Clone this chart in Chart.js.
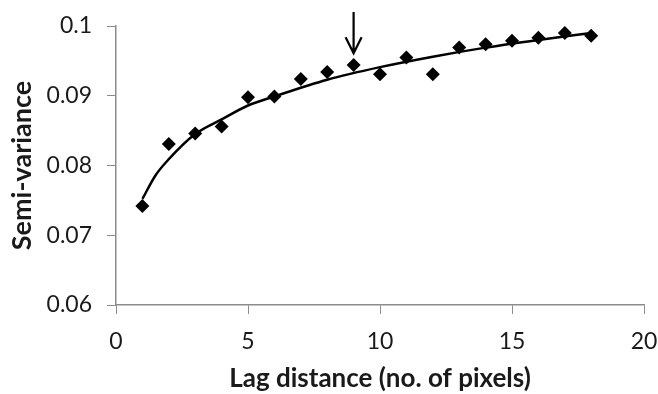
<!DOCTYPE html>
<html lang="en">
<head>
  <meta charset="UTF-8">
  <title>Semi-variance vs lag distance</title>
  <script src="https://cdn.jsdelivr.net/npm/chart.js"></script>
  <style>
    body {
      margin: 0;
      background: #fff;
    }
    #chart {
      display: block;
    }
  </style>
</head>
<body>
  <canvas id="chart" width="658" height="394"></canvas>

  <script>
    // Observed semi-variance per lag
    const lags = [1, 2, 3, 4, 5, 6, 7, 8, 9, 10, 11, 12, 13, 14, 15, 16, 17, 18];
    const semiVariance = [0.0742, 0.0831, 0.0846, 0.0856, 0.0898, 0.0899, 0.0924, 0.0934, 0.0944, 0.0931,
                          0.0955, 0.0931, 0.0969, 0.0974, 0.0979, 0.0983, 0.0990, 0.0986];

    // Fitted curve
    const fitX = [1, 1.5, 2, 3, 4, 5, 6, 8, 10, 12, 14, 16, 18];
    const fitY = [0.0752, 0.0786, 0.0809, 0.0845, 0.0866, 0.0886, 0.0899, 0.0923, 0.0941, 0.0956, 0.0969, 0.0980, 0.0990];

    // Arrow marking the chosen lag
    const arrowX = 9;
    const arrowFrom = 0.1020;
    const arrowTo = 0.0961;

    const xTicks = [0, 5, 10, 15, 20];
    const yTicks = [0.06, 0.07, 0.08, 0.09, 0.1];

    const FONT = "Lato, 'Open Sans', sans-serif";
    const AXIS = "#8c8c8c";
    const TEXT = "#1a1a1a";

    // Draws the down arrow above the point at lag 9
    const arrowPlugin = {
      id: "arrow",
      afterDatasetsDraw(chart) {
        const ctx = chart.ctx;
        const x = chart.scales.x.getPixelForValue(arrowX);
        const y1 = chart.scales.y.getPixelForValue(arrowFrom);
        const y2 = chart.scales.y.getPixelForValue(arrowTo);
        ctx.save();
        ctx.strokeStyle = "#000";
        ctx.lineWidth = 2.2;
        ctx.beginPath();
        ctx.moveTo(x, y1);
        ctx.lineTo(x, y2);
        ctx.moveTo(x - 8, y2 - 16);
        ctx.lineTo(x, y2);
        ctx.lineTo(x + 8, y2 - 16);
        ctx.stroke();
        ctx.restore();
      }
    };

    new Chart(document.getElementById("chart").getContext("2d"), {
      type: "scatter",
      data: {
        datasets: [
          {
            label: "Semi-variance",
            data: lags.map((x, i) => ({ x: x, y: semiVariance[i] })),
            pointStyle: "rectRot",
            pointRadius: 7,
            pointHoverRadius: 7,
            backgroundColor: "#000",
            borderColor: "#000",
            borderWidth: 0,
            order: 1
          },
          {
            label: "Fit",
            type: "line",
            data: fitX.map((x, i) => ({ x: x, y: fitY[i] })),
            borderColor: "#000",
            borderWidth: 2.5,
            pointRadius: 0,
            cubicInterpolationMode: "monotone",
            fill: false,
            order: 2
          }
        ]
      },
      options: {
        responsive: false,
        animation: false,
        layout: { padding: { left: 0, right: 14, top: 26, bottom: 0 } },
        plugins: {
          legend: { display: false },
          tooltip: { enabled: false }
        },
        scales: {
          x: {
            type: "linear",
            min: 0,
            max: 20,
            afterBuildTicks: (s) => { s.ticks = xTicks.map(v => ({ value: v })); },
            afterFit: (s) => {
              s.height = 89;
              s.paddingLeft = 0;
              s.paddingRight = 0;
            },
            ticks: { color: TEXT, font: { family: FONT, size: 23 }, padding: 14 },
            grid: { display: true, drawOnChartArea: false, drawTicks: true, tickLength: 9, color: AXIS },
            border: { color: AXIS, width: 1.5 },
            title: {
              display: true,
              text: "Lag distance (no. of pixels)",
              color: TEXT,
              font: { family: FONT, size: 26, weight: "bold" },
              padding: { top: 0, bottom: 0 }
            }
          },
          y: {
            min: 0.06,
            max: 0.1,
            afterBuildTicks: (s) => { s.ticks = yTicks.map(v => ({ value: v })); },
            afterFit: (s) => {
              s.width = 116;
              s.paddingTop = 0;
              s.paddingBottom = 0;
            },
            ticks: {
              color: TEXT,
              font: { family: FONT, size: 23 },
              padding: 15,
              callback: (v) => String(+v.toFixed(2))
            },
            grid: { display: true, drawOnChartArea: false, drawTicks: true, tickLength: 9, color: AXIS },
            border: { color: AXIS, width: 1.5 },
            title: {
              display: true,
              text: "Semi-variance",
              color: TEXT,
              font: { family: FONT, size: 27, weight: "bold" },
              padding: { top: 6, bottom: 0 }
            }
          }
        }
      },
      plugins: [arrowPlugin]
    });
  </script>
</body>
</html>
